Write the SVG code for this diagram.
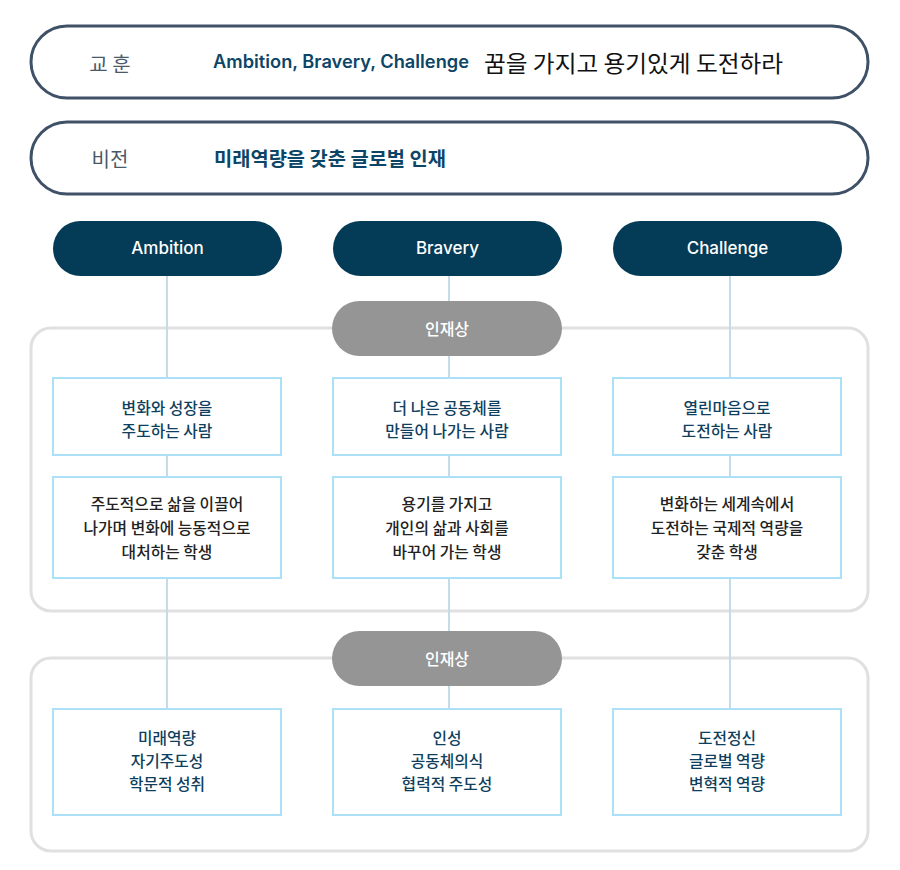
<svg xmlns="http://www.w3.org/2000/svg" width="900" height="870" viewBox="0 0 900 870">
<style>
.frame{fill:#fff;stroke:#3f5166;stroke-width:3}
.group{fill:none;stroke:#e0e0e0;stroke-width:3}
.pill{fill:#043b57}
.gpill{fill:#959595}
.box{fill:#fff;stroke:#abe0f7;stroke-width:2}
.conn{stroke:#c3dce7;stroke-width:2;fill:none}
text{font-family:"Noto Sans CJK KR","Noto Sans",sans-serif;dominant-baseline:central}
.lab{font-size:20px;fill:#4b5a68;text-anchor:middle}
.en{font-family:Inter,"Noto Sans CJK KR",sans-serif;font-weight:600;font-size:18px;fill:#0d4566}
.motto{font-size:23px;fill:#111}
.vis{font-size:19px;font-weight:700;fill:#0d4566}
.pt{font-family:Inter,"Noto Sans CJK KR",sans-serif;font-size:17px;font-weight:500;fill:#fff;text-anchor:middle}
.gt{font-size:16px;font-weight:500;fill:#fff;text-anchor:middle}
.bt{font-size:15.8px;font-weight:500;fill:#0f3f5e;text-anchor:middle}
.bd{font-size:15.8px;font-weight:500;fill:#222;text-anchor:middle}
</style>
<g id="motto-frame">
<rect class="frame" x="31" y="26" width="837" height="72" rx="36"/>
<text class="lab" x="110" y="63">교 훈</text>
<text class="en" x="213" y="61" textLength="256" lengthAdjust="spacingAndGlyphs">Ambition, Bravery, Challenge</text>
<text class="motto" x="484" y="62" textLength="299" lengthAdjust="spacingAndGlyphs">꿈을 가지고 용기있게 도전하라</text>
</g>
<g id="vision-frame">
<rect class="frame" x="31" y="122" width="837" height="72" rx="36"/>
<text class="lab" x="110" y="158">비전</text>
<text class="vis" x="214" y="157" textLength="232" lengthAdjust="spacingAndGlyphs">미래역량을 갖춘 글로벌 인재</text>
</g>
<g id="group1"><rect class="group" x="31" y="328" width="837" height="283" rx="20"/></g>
<g id="group2"><rect class="group" x="31" y="658" width="837" height="193" rx="20"/></g>
<g id="connectors">
<line class="conn" x1="167" y1="276" x2="167" y2="708"/>
<line class="conn" x1="449" y1="276" x2="449" y2="708"/>
<line class="conn" x1="730" y1="276" x2="730" y2="708"/>
</g>
<g id="ambition"><rect class="pill" x="53" y="221" width="229" height="55" rx="27.5"/><text class="pt" x="167.5" y="248">Ambition</text></g>
<g id="bravery"><rect class="pill" x="333" y="221" width="229" height="55" rx="27.5"/><text class="pt" x="447.5" y="248">Bravery</text></g>
<g id="challenge"><rect class="pill" x="613" y="221" width="229" height="55" rx="27.5"/><text class="pt" x="727.5" y="248">Challenge</text></g>
<g id="talent1"><rect class="gpill" x="332" y="301" width="230" height="55" rx="27.5"/><text class="gt" x="447" y="328">인재상</text></g>
<g id="talent2"><rect class="gpill" x="332" y="631" width="230" height="55" rx="27.5"/><text class="gt" x="447" y="658">인재상</text></g>
<g id="a1"><rect class="box" x="53" y="378" width="228" height="77"/><text class="bt" x="167" y="407">변화와 성장을</text><text class="bt" x="167" y="430">주도하는 사람</text></g>
<g id="b1"><rect class="box" x="333" y="378" width="228" height="77"/><text class="bt" x="447" y="407">더 나은 공동체를</text><text class="bt" x="447" y="430">만들어 나가는 사람</text></g>
<g id="c1"><rect class="box" x="613" y="378" width="228" height="77"/><text class="bt" x="727" y="407">열린마음으로</text><text class="bt" x="727" y="430">도전하는 사람</text></g>
<g id="a2"><rect class="box" x="53" y="477" width="228" height="101"/><text class="bd" x="167" y="503">주도적으로 삶을 이끌어</text><text class="bd" x="167" y="527">나가며 변화에 능동적으로</text><text class="bd" x="167" y="551">대처하는 학생</text></g>
<g id="b2"><rect class="box" x="333" y="477" width="228" height="101"/><text class="bd" x="447" y="503">용기를 가지고</text><text class="bd" x="447" y="527">개인의 삶과 사회를</text><text class="bd" x="447" y="551">바꾸어 가는 학생</text></g>
<g id="c2"><rect class="box" x="613" y="477" width="228" height="101"/><text class="bd" x="727" y="503">변화하는 세계속에서</text><text class="bd" x="727" y="527">도전하는 국제적 역량을</text><text class="bd" x="727" y="551">갖춘 학생</text></g>
<g id="a3"><rect class="box" x="53" y="709" width="228" height="106"/><text class="bt" x="167" y="737">미래역량</text><text class="bt" x="167" y="760">자기주도성</text><text class="bt" x="167" y="783">학문적 성취</text></g>
<g id="b3"><rect class="box" x="333" y="709" width="228" height="106"/><text class="bt" x="447" y="737">인성</text><text class="bt" x="447" y="760">공동체의식</text><text class="bt" x="447" y="783">협력적 주도성</text></g>
<g id="c3"><rect class="box" x="613" y="709" width="228" height="106"/><text class="bt" x="727" y="737">도전정신</text><text class="bt" x="727" y="760">글로벌 역량</text><text class="bt" x="727" y="783">변혁적 역량</text></g>
</svg>
